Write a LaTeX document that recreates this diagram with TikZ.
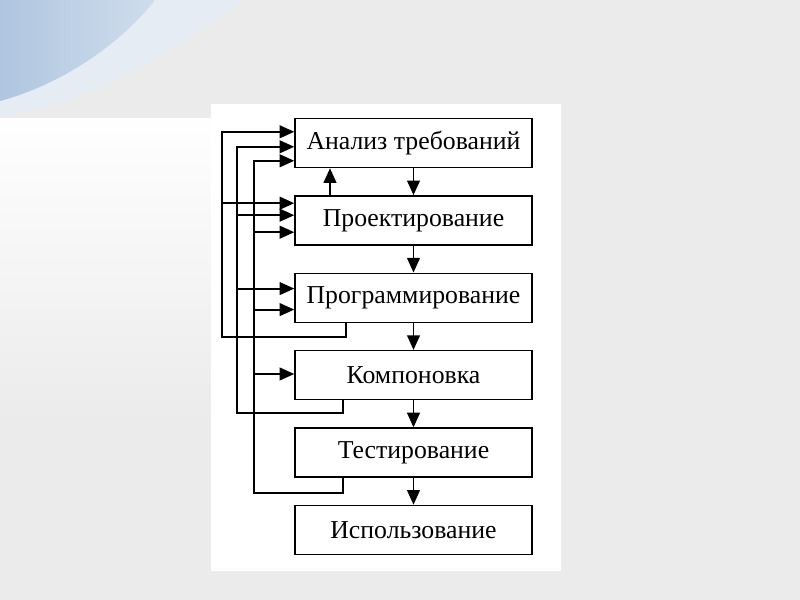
\documentclass[tikz,border=0pt]{standalone}
\usepackage{fontspec}
\setmainfont{Liberation Serif}
\usetikzlibrary{calc,arrows.meta,fadings}

\definecolor{bg}{HTML}{EBEBEB}
\definecolor{haze}{HTML}{E6ECF3}
\definecolor{swoosh}{HTML}{AFC6E0}

\tikzset{
  stage/.style={draw,line width=1.2pt,fill=white,minimum width=7.11cm,minimum height=1.47cm,
    inner sep=0pt,font=\fontsize{22}{26}\selectfont},
  fb/.style={line width=1.7pt,-{Triangle[length=0.44cm,width=0.38cm]}},
  bus/.style={line width=1.7pt}
}

\begin{document}
\begin{tikzpicture}[x=0.03cm,y=-0.03cm]
\useasboundingbox (0,0) rectangle (800,600);
% slide background
\fill[bg] (0,0) rectangle (800,600);
\fill[white,path fading=south] (0,118) rectangle (212,430);
\fill[haze] (0,0) -- (245,0) .. controls (185,45) and (100,100) .. (0,118) -- cycle;
\shade[left color=swoosh,right color=swoosh!60!white] (0,0) -- (155,0) .. controls (120,45) and (60,85) .. (0,101) -- cycle;
\fill[white] (211,104) rectangle (561,571);

% stages
\foreach \n/\t [count=\i] in {an/Анализ требований,pr/Проектирование,pg/Программирование,
    km/Компоновка,ts/Тестирование,us/Использование}
  \node[stage] (\n) at (413.5,{143+77.4*(\i-1)}) {\t};

% taps on the left side
\coordinate (an1) at ($(an.north west)+(0,14)$);
\coordinate (an2) at ($(an.north west)+(0,29)$);
\coordinate (an3) at ($(an.north west)+(0,43)$);
\coordinate (pr1) at ($(pr.north west)+(0,8)$);
\coordinate (pr2) at ($(pr.north west)+(0,20)$);
\coordinate (pr3) at ($(pr.north west)+(0,37)$);
\coordinate (pg2) at ($(pg.north west)+(0,16)$);
\coordinate (pg3) at ($(pg.north west)+(0,37)$);
\coordinate (km3) at ($(km.north west)+(0,24)$);
\coordinate (bA) at (222,337);
\coordinate (bB) at (237,413);
\coordinate (bC) at (254,493);

% forward flow
\foreach \a/\b in {an/pr,pr/pg,pg/km,km/ts,ts/us}
  \draw[fb] (\a.south) -- (\b.north);
\draw[fb] ($(pr.north)+(-83.5,0)$) -- ($(an.south)+(-83.5,0)$);

% returns
\draw[fb] ($(pg.south)+(-67.5,0)$) |- (bA) |- (an1);
\draw[fb] (bA |- pr1) -- (pr1);
\draw[fb] ($(km.south)+(-70.5,0)$) |- (bB) |- (an2);
\foreach \t in {pr2,pg2} \draw[fb] (bB |- \t) -- (\t);
\draw[fb] ($(ts.south)+(-70.5,0)$) |- (bC) |- (an3);
\foreach \t in {pr3,pg3,km3} \draw[fb] (bC |- \t) -- (\t);
\end{tikzpicture}
\end{document}
